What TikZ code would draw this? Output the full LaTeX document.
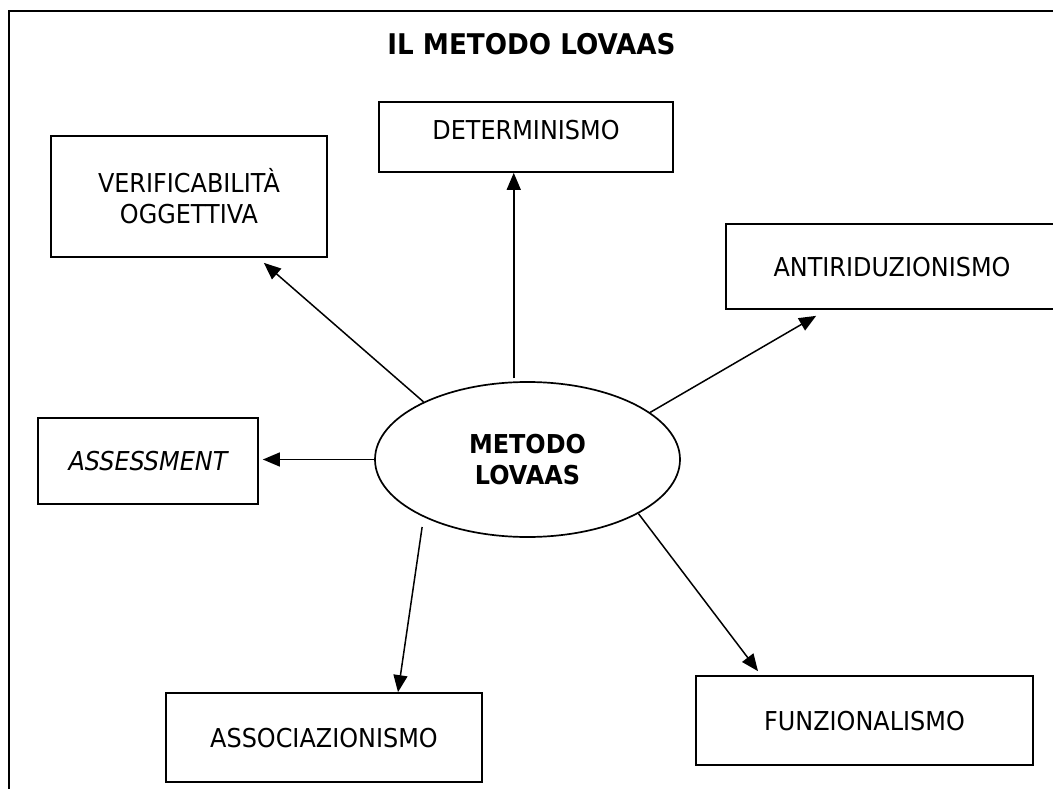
\documentclass[tikz,border=0pt]{standalone}
\usepackage{fontspec}
\setmainfont{DejaVu Sans}[FakeStretch=0.92]
\usetikzlibrary{arrows.meta,shapes.geometric,calc}
\begin{document}
\begin{tikzpicture}[x=1pt,y=-1pt,
  box/.style={draw, line width=1.7pt, rectangle, inner sep=0pt, font=\fontsize{26}{31}\selectfont},
  oneline/.style={text height=19pt, text depth=0pt},
  arr/.style={line width=1.5pt, -{Triangle[length=17pt,width=14pt]}},
]
\useasboundingbox (0,0) rectangle (1053,789);
\clip (0,0) rectangle (1053,789);
\fill[white] (0,0) rectangle (1053,789);
% frame
\draw[line width=2.2pt] (9,800) -- (9,11) -- (1070,11);
% title
\node[font=\bfseries\fontsize{28.5}{34}\selectfont, anchor=base, inner sep=0pt] (title) at (531.5,55) {IL METODO LOVAAS};
% boxes
\node[box,oneline,minimum width=294pt,minimum height=70pt,text depth=14pt] (det) at (526,137) {DETERMINISMO};
\node[box,align=center,minimum width=276pt,minimum height=121pt] (ver) at (189,196.5) {VERIFICABILITÀ\\OGGETTIVA};
\node[box,oneline,minimum width=332pt,minimum height=85pt] (anti) at (892,266.5) {ANTIRIDUZIONISMO};
\node[box,oneline,minimum width=220pt,minimum height=86pt] (ass) at (148,461) {\itshape ASSESSMENT};
\node[draw,ellipse,line width=1.7pt,minimum width=305pt,minimum height=155pt,inner sep=0pt,align=center,font=\bfseries\fontsize{26}{31}\selectfont] (ell) at (527.5,459.5) {METODO\\LOVAAS};
\node[box,oneline,minimum width=337pt,minimum height=89pt] (funz) at (864.5,720.5) {FUNZIONALISMO};
\node[box,oneline,minimum width=316pt,minimum height=89pt] (assoc) at (324,737.5) {ASSOCIAZIONISMO};
% arrows
\draw[arr, shorten <=3pt] (ell.100) -- (ell.100 |- det.south);
\draw[arr] (ell.151) -- ($(ver.south east)+(-64,5)$);
\draw[arr] (ell.21) -- ($(anti.south west)+(91,6)$);
\draw[arr, shorten >=4pt] (ell.west) -- (ell.west -| ass.east);
\draw[arr, shorten <=10pt] (ell.209) -- ($(assoc.north)+(74,0)$);
\draw[arr] (ell.334) -- ($(funz.north)+(-106.5,-4)$);
\end{tikzpicture}
\end{document}
